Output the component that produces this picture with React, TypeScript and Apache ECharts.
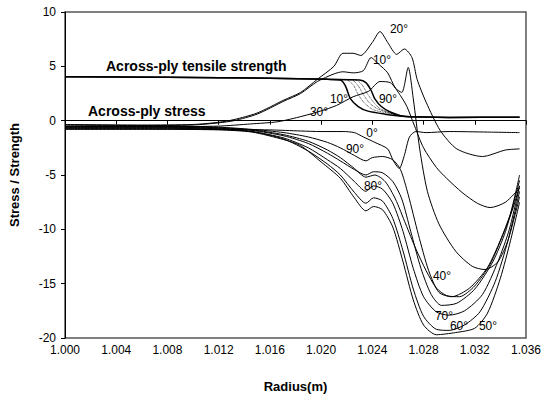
import React, { useEffect, useRef } from "react";
import * as echarts from "echarts";

// Radius (m) vs Stress / Strength
const stress0 = [[1.000,-0.75],[1.006,-0.75],[1.012,-0.8],[1.016,-0.85],[1.0184,-0.95],[1.0200,-1.0],[1.0217,-1.0],[1.0226,-1.1],[1.0233,-1.5],[1.0242,-2.0],[1.0252,-2.6],[1.0256,-3.6],[1.0261,-4.4],[1.0265,-3.2],[1.0269,-1.5],[1.0274,-1.0],[1.0282,-1.1],[1.0300,-1.0],[1.0330,-1.05],[1.0355,-1.1]];
const stress10 = [[1.000,-0.4],[1.006,-0.45],[1.010,-0.4],[1.012,-0.2],[1.0132,0.0],[1.015,0.6],[1.0171,1.8],[1.0184,2.5],[1.0197,3.6],[1.0210,4.3],[1.0217,4.5],[1.0225,4.4],[1.0233,4.6],[1.0239,5.8],[1.0245,5.2],[1.0252,4.4],[1.0258,3.0],[1.0263,2.6],[1.0268,4.9],[1.0272,2.0],[1.0277,-2.6],[1.0283,-6.5],[1.0292,-9.5],[1.0305,-12.0],[1.0318,-13.4],[1.0328,-13.7],[1.0338,-13.0],[1.0346,-11.0],[1.0355,-7.0]];
const stress20 = [[1.000,-0.35],[1.006,-0.4],[1.010,-0.35],[1.012,-0.15],[1.0132,0.1],[1.015,0.7],[1.0171,1.9],[1.0184,2.6],[1.0197,3.8],[1.0210,5.0],[1.0217,6.2],[1.0225,6.2],[1.0231,6.0],[1.0240,7.2],[1.0246,8.2],[1.0252,7.2],[1.0259,6.1],[1.0265,6.6],[1.0271,5.8],[1.0275,3.8],[1.0282,1.7],[1.0293,-0.9],[1.0306,-2.6],[1.0326,-3.3],[1.0344,-2.7],[1.0355,-2.6]];
const stress30 = [[1.000,-0.55],[1.008,-0.55],[1.012,-0.5],[1.0145,-0.3],[1.0166,-0.1],[1.0185,0.4],[1.0200,0.9],[1.0212,1.4],[1.0225,2.2],[1.0237,2.7],[1.0246,3.6],[1.0254,3.5],[1.0262,2.3],[1.0267,1.3],[1.0273,-0.5],[1.0280,-2.5],[1.0290,-4.3],[1.0298,-5.3],[1.0310,-6.6],[1.0322,-7.6],[1.0332,-8.0],[1.0344,-7.5],[1.0355,-6.2]];
const stress40 = [[1.000,-0.55],[1.008,-0.55],[1.012,-0.65],[1.0146,-0.85],[1.0171,-1.3],[1.0190,-1.9],[1.0205,-2.7],[1.0215,-3.4],[1.0226,-4.4],[1.0235,-5.2],[1.0242,-5.0],[1.0250,-5.6],[1.0258,-7.2],[1.0266,-9.5],[1.0274,-11.8],[1.0282,-13.8],[1.0290,-15.4],[1.0298,-16.1],[1.0308,-16.2],[1.0320,-15.2],[1.0332,-13.2],[1.0342,-10.5],[1.0350,-8.0],[1.0355,-6.0]];
const stress50 = [[1.000,-0.8],[1.008,-0.8],[1.012,-0.85],[1.0146,-1.05],[1.0171,-1.75],[1.0184,-2.3],[1.0200,-3.8],[1.0215,-5.3],[1.0226,-7.1],[1.0235,-8.3],[1.0241,-7.9],[1.0248,-8.2],[1.0256,-9.8],[1.0264,-13.0],[1.0272,-16.5],[1.0280,-18.8],[1.0290,-19.7],[1.0305,-19.5],[1.0320,-19.1],[1.0330,-17.7],[1.0340,-14.5],[1.0348,-11.0],[1.0355,-7.5]];
const stress60 = [[1.000,-0.7],[1.008,-0.7],[1.012,-0.8],[1.0146,-1.0],[1.0171,-1.7],[1.0190,-2.8],[1.0205,-4.0],[1.0215,-5.0],[1.0226,-6.6],[1.0235,-7.6],[1.0241,-7.1],[1.0248,-7.4],[1.0256,-9.0],[1.0264,-12.0],[1.0272,-15.5],[1.0280,-18.0],[1.0290,-19.2],[1.0300,-19.3],[1.0312,-18.8],[1.0324,-17.6],[1.0336,-14.8],[1.0346,-11.0],[1.0355,-6.5]];
const stress70 = [[1.000,-0.65],[1.008,-0.65],[1.012,-0.75],[1.0146,-1.0],[1.0171,-1.6],[1.0190,-2.5],[1.0205,-3.6],[1.0215,-4.4],[1.0226,-5.6],[1.0235,-6.5],[1.0241,-6.0],[1.0248,-6.3],[1.0256,-7.6],[1.0264,-10.2],[1.0272,-13.6],[1.0280,-16.2],[1.0290,-17.6],[1.0300,-17.9],[1.0312,-17.5],[1.0326,-16.0],[1.0338,-13.0],[1.0347,-10.0],[1.0355,-6.0]];
const stress80 = [[1.000,-0.6],[1.008,-0.6],[1.012,-0.7],[1.0146,-0.9],[1.0171,-1.4],[1.0190,-2.1],[1.0205,-3.0],[1.0215,-3.7],[1.0226,-4.5],[1.0235,-5.0],[1.0241,-4.7],[1.0248,-4.8],[1.0256,-5.6],[1.0263,-7.2],[1.0270,-10.2],[1.0278,-13.6],[1.0286,-16.0],[1.0294,-17.0],[1.0306,-16.8],[1.0320,-15.5],[1.0334,-13.0],[1.0344,-10.2],[1.0355,-5.5]];
const stress90 = [[1.000,-0.5],[1.008,-0.5],[1.012,-0.6],[1.0146,-0.8],[1.0171,-1.1],[1.0190,-1.5],[1.0205,-2.0],[1.0215,-2.5],[1.0226,-3.2],[1.0235,-3.7],[1.0240,-3.4],[1.0248,-3.3],[1.0256,-3.6],[1.0262,-4.5],[1.0268,-6.8],[1.0276,-10.5],[1.0284,-13.8],[1.0292,-15.8],[1.0302,-16.2],[1.0316,-15.4],[1.0330,-13.5],[1.0340,-11.0],[1.0348,-8.5],[1.0355,-5.0]];

const strength10 = [[1.000,4.05],[1.008,4.0],[1.016,3.9],[1.0205,3.8],[1.0215,3.75],[1.0219,3.2],[1.0223,2.0],[1.0229,1.3],[1.0236,0.9],[1.0250,0.6],[1.0264,0.4],[1.0280,0.33],[1.0300,0.3],[1.0355,0.32]];
const strength30 = [[1.0205,3.8],[1.0220,3.75],[1.0225,3.3],[1.0229,2.4],[1.0234,1.6],[1.0241,1.0],[1.0252,0.7],[1.0264,0.4]];
const strength50 = [[1.0205,3.8],[1.0224,3.75],[1.0229,3.2],[1.0233,2.4],[1.0238,1.6],[1.0244,1.1],[1.0254,0.7],[1.0264,0.4]];
const strength70 = [[1.0205,3.8],[1.0227,3.75],[1.0232,3.3],[1.0236,2.5],[1.0241,1.7],[1.0246,1.1],[1.0255,0.7],[1.0264,0.4]];
const strength90 = [[1.000,4.05],[1.008,4.0],[1.016,3.9],[1.0205,3.8],[1.0230,3.75],[1.0235,3.5],[1.0239,2.8],[1.0242,2.0],[1.0247,1.3],[1.0254,0.8],[1.0264,0.4],[1.0280,0.33],[1.0300,0.3],[1.0355,0.32]];

const xTickLabelDigits = 3;

export default function App() {
  const ref = useRef<HTMLDivElement>(null);
  useEffect(() => {
    document.body.style.margin = "0";
    const chart = echarts.init(ref.current!, null, { renderer: "svg" });
    const font = "Arial, 'Liberation Sans', Helvetica, sans-serif";
    const line = (name: string, data: number[][], width = 1, type: any = "solid") => ({
      type: "line",
      name,
      data,
      symbol: "none",
      smooth: 0.25,
      silent: true,
      lineStyle: { color: "#000", width, type },
    });
    const txt = (x: number, y: number, text: string, bold = false, size = 12, align = "center") => ({
      type: "text",
      x,
      y,
      silent: true,
      style: {
        text,
        fill: "#000",
        font: `${bold ? "bold " : ""}${size}px ${font}`,
        textAlign: align,
        textVerticalAlign: "middle",
      },
      z: 100,
    });
    chart.setOption({
      animation: false,
      backgroundColor: "#fff",
      grid: { left: 62, right: 17, top: 12, bottom: 57, show: true, borderColor: "#555", borderWidth: 1.5, backgroundColor: "transparent" },
      xAxis: {
        type: "value",
        min: 1.0,
        max: 1.036,
        interval: 0.004,
        name: "Radius(m)",
        nameLocation: "middle",
        nameGap: 42,
        nameTextStyle: { fontFamily: font, fontWeight: "bold", fontSize: 13, color: "#000" },
        axisLine: { lineStyle: { color: "#000", width: 1 } },
        axisTick: { show: true, inside: false, length: 4, lineStyle: { color: "#000" } },
        axisLabel: { margin: 6, fontFamily: font, fontSize: 12, color: "#000", formatter: (v: number) => v.toFixed(xTickLabelDigits) },
        splitLine: { show: false },
      },
      yAxis: {
        type: "value",
        min: -20,
        max: 10,
        interval: 5,
        name: "Stress / Strength",
        nameLocation: "middle",
        nameGap: 44,
        nameRotate: 90,
        nameTextStyle: { fontFamily: font, fontWeight: "bold", fontSize: 13, color: "#000" },
        axisLine: { show: true, lineStyle: { color: "#000", width: 1 } },
        axisTick: { show: true, inside: false, length: 4, lineStyle: { color: "#000" } },
        axisLabel: { margin: 9, fontFamily: font, fontSize: 12, color: "#000" },
        splitLine: { show: false },
      },
      series: [
        line("Strength 10°", strength10, 1.5),
        line("Strength 30°", strength30, 0.8, "dotted"),
        line("Strength 50°", strength50, 0.8, "dotted"),
        line("Strength 70°", strength70, 0.8, "dotted"),
        line("Strength 90°", strength90, 1.5),
        line("0°", stress0),
        line("10°", stress10),
        line("20°", stress20),
        line("30°", stress30),
        line("40°", stress40),
        line("50°", stress50),
        line("60°", stress60),
        line("70°", stress70),
        line("80°", stress80),
        line("90°", stress90),
      ],
      graphic: [
        txt(106, 66, "Across-ply tensile strength", true, 14, "left"),
        txt(88, 111, "Across-ply stress", true, 14, "left"),
        txt(399, 29, "20°"),
        txt(382, 60, "10°"),
        txt(339, 99, "10°"),
        txt(388, 99, "90°"),
        txt(319, 112, "30°"),
        txt(372, 133, "0°"),
        txt(355, 149, "90°"),
        txt(373, 186, "80°"),
        txt(442, 276, "40°"),
        txt(444, 316, "70°"),
        txt(459, 326, "60°"),
        txt(488, 326, "50°"),
      ],
    });
    return () => chart.dispose();
  }, []);
  return <div ref={ref} style={{ width: 544, height: 398 }} />;
}
